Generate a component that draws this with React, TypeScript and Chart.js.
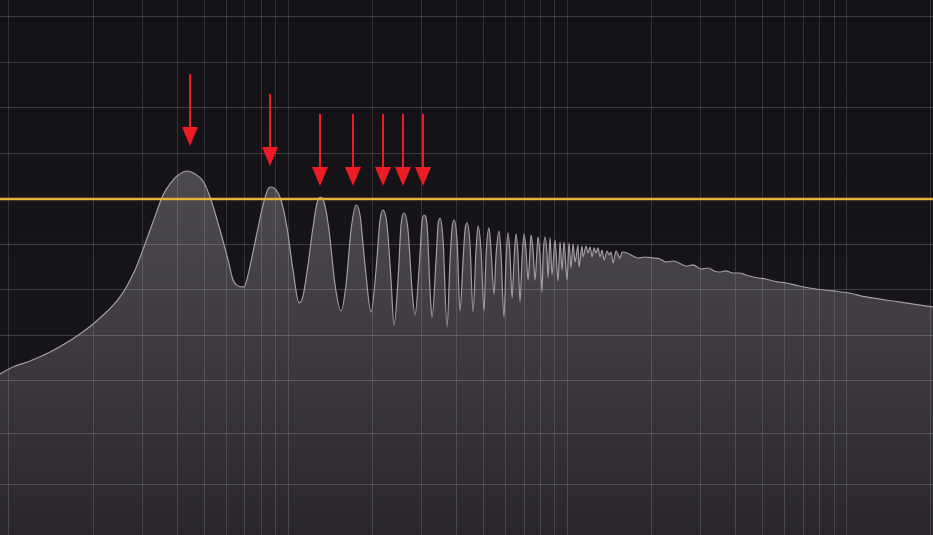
import React, { useEffect, useRef } from "react";
import { Chart, registerables } from "chart.js";

Chart.register(...registerables);

// Frequency response (Hz) and level (dB)
const freqHz = [
  9.29, 10.34, 11.9, 14.03, 17.53, 21.19, 24.99, 28.28, 29.96, 32.8,
  35.62, 37.73, 39.97, 43.41, 46.37, 49.53, 52.47, 56.98, 60.87, 63.43,
  66.1, 69.45, 71.78, 74.8, 77.95, 81.23, 84.65, 86.77, 90.42, 94.22,
  99.0, 104.0, 109.3, 112.96, 117.7, 121.7, 126.8, 129.95, 134.3, 139.96,
  147.1, 154.5, 161.0, 167.8, 174.85, 180.7, 188.3, 197.9, 206.2, 213.1,
  218.4, 225.8, 233.3, 239.2, 247.2, 253.4, 259.7, 268.4, 277.5, 284.4,
  293.9, 301.3, 306.3, 314.0, 321.8, 327.2, 338.2, 343.8, 349.5, 358.3,
  370.3, 379.6, 385.9, 392.3, 402.1, 412.1, 422.5, 429.5, 436.6, 447.6,
  458.8, 470.2, 478.1, 490.0, 502.3, 510.7, 523.4, 532.1, 545.5, 554.5,
  568.4, 577.9, 592.4, 602.2, 612.2, 622.4, 632.7, 643.3, 654.0, 664.8,
  675.9, 687.1, 698.6, 710.1, 721.9, 734.0, 740.1, 752.3, 764.8, 777.5,
  784.0, 797.1, 810.3, 817.0, 830.6, 844.4, 851.4, 865.5, 879.9, 901.9,
  924.6, 939.9, 955.5, 971.4, 995.8, 1012, 1029, 1046, 1064, 1090,
  1099, 1127, 1136, 1165, 1184, 1204, 1224, 1244, 1265, 1286,
  1307, 1329, 1351, 1385, 1408, 1431, 1455, 1491, 1541, 1567,
  1633, 1716, 1788, 1894, 2023, 2144, 2252, 2386, 2507, 2656,
  2814, 3006, 3184, 3346, 3486, 3693, 3913, 4112, 4356, 4615,
  4849, 5137, 5442, 5718, 6058, 6744, 7758, 8924, 10183, 11714,
  15376, 20340,
];

const levelDb = [
  -23.08, -22.15, -21.36, -20.18, -18.07, -15.69, -12.92, -9.36, -6.99, -3.03,
  0.53, 1.98, 3.03, 3.69, 3.3, 2.37, 0.26, -4.09, -8.04, -10.68,
  -11.47, -11.6, -10.02, -6.99, -3.82, -0.79, 1.32, 1.58, 1.19, -0.13,
  -3.82, -9.36, -13.71, -12.79, -8.7, -4.62, -0.53, 0.26, -0.4, -4.09,
  -11.34, -14.77, -11.34, -4.09, -0.79, -2.11, -8.7, -14.9, -9.36, -2.77,
  -1.45, -3.43, -10.68, -16.62, -10.68, -3.43, -1.85, -4.09, -12.0, -15.3,
  -9.36, -3.03, -2.11, -3.43, -12.0, -15.56, -8.04, -3.43, -2.51, -5.41,
  -16.88, -8.04, -3.82, -2.77, -5.41, -14.77, -8.04, -4.09, -3.16, -6.07,
  -14.9, -6.73, -3.56, -6.73, -14.77, -7.38, -3.82, -6.73, -12.53, -7.38,
  -4.22, -7.38, -15.56, -8.04, -4.48, -7.38, -13.06, -8.04, -4.62, -7.38,
  -13.58, -7.78, -4.62, -6.73, -10.68, -6.73, -4.75, -6.73, -10.68, -6.73,
  -5.01, -7.38, -12.26, -7.78, -5.01, -7.38, -10.42, -5.14, -10.02, -5.41,
  -10.81, -5.67, -9.36, -5.67, -10.68, -5.8, -9.1, -5.93, -8.31, -6.07,
  -8.97, -6.2, -7.65, -6.2, -7.12, -6.33, -7.65, -6.46, -7.12, -6.46,
  -7.65, -6.73, -8.04, -6.86, -7.38, -6.99, -8.44, -6.86, -7.78, -6.99,
  -7.12, -7.52, -7.78, -7.65, -7.78, -7.91, -8.31, -8.18, -8.44, -8.84,
  -8.7, -9.23, -9.1, -9.49, -9.63, -9.49, -9.76, -9.76, -10.02, -10.29,
  -10.42, -10.55, -10.81, -10.95, -11.08, -11.47, -11.87, -12.13, -12.4, -12.92,
  -13.58, -14.24,
];

const refLevelDb = 0;
const xMinHz = 9.29;
const xMaxHz = 20340;
const yMinDb = -44.31;
const yMaxDb = 26.24;

const xGridHz = [
  10, 20, 30, 40, 50, 60, 70, 80, 90,
  100, 200, 300, 400, 500, 600, 700, 800, 900,
  1000, 2000, 3000, 4000, 5000, 6000, 7000, 8000, 9000,
  10000, 20000,
];
const yGridDb = [24, 18, 12, 6, 0, -6, -12, -18, -24, -30.9, -37.7];

const arrowHz = [44.5, 86, 130, 170.6, 218.4, 257.6, 303.8];
const arrowTopDb = [16.48, 13.85, 11.21, 11.21, 11.21, 11.21, 11.21];
const arrowTipDb = [6.99, 4.35, 1.71, 1.71, 1.71, 1.71, 1.71];

const bgPlugin = {
  id: "bg",
  beforeDraw(chart: any) {
    const { ctx, width, height } = chart;
    ctx.save();
    const g = ctx.createLinearGradient(0, 0, 0, height);
    g.addColorStop(0, "#141117");
    g.addColorStop(1, "#19161b");
    ctx.fillStyle = g;
    ctx.fillRect(0, 0, width, height);
    ctx.restore();
  },
};

const arrowPlugin = {
  id: "arrows",
  afterDatasetsDraw(chart: any) {
    const { ctx } = chart;
    const xs = chart.scales.x;
    const ys = chart.scales.y;
    ctx.save();
    ctx.fillStyle = "#ec1c24";
    ctx.strokeStyle = "#ec1c24";
    ctx.lineWidth = 2;
    const headLen = 19;
    const headHalf = 8;
    arrowHz.forEach((f, i) => {
      const px = Math.round(xs.getPixelForValue(f));
      const top = ys.getPixelForValue(arrowTopDb[i]);
      const tip = ys.getPixelForValue(arrowTipDb[i]);
      ctx.beginPath();
      ctx.moveTo(px, top);
      ctx.lineTo(px, tip - headLen + 1);
      ctx.stroke();
      ctx.beginPath();
      ctx.moveTo(px - headHalf, tip - headLen);
      ctx.lineTo(px + headHalf, tip - headLen);
      ctx.lineTo(px, tip);
      ctx.closePath();
      ctx.fill();
    });
    ctx.restore();
  },
};

export default function App() {
  const canvasRef = useRef<HTMLCanvasElement | null>(null);

  useEffect(() => {
    document.body.style.margin = "0";
    const canvas = canvasRef.current;
    if (!canvas) return;

    const spectrum = freqHz.map((f, i) => ({ x: f, y: levelDb[i] }));
    const refLine = [
      { x: xMinHz, y: refLevelDb },
      { x: xMaxHz, y: refLevelDb },
    ];

    const chart = new Chart(canvas, {
      type: "line",
      data: {
        datasets: [
          {
            data: refLine,
            borderColor: "#e9b23e",
            borderWidth: 2.5,
            pointRadius: 0,
            fill: false,
          },
          {
            data: spectrum,
            borderColor: "#a29ea4",
            borderWidth: 1.2,
            pointRadius: 0,
            cubicInterpolationMode: "monotone",
            fill: "start",
            backgroundColor: (context: any) => {
              const { chart: c } = context;
              const area = c.chartArea;
              if (!area) return "rgba(235,230,240,0.2)";
              const g = c.ctx.createLinearGradient(0, area.top, 0, area.bottom);
              g.addColorStop(0, "rgba(235,230,240,0.30)");
              g.addColorStop(0.45, "rgba(235,230,240,0.23)");
              g.addColorStop(1, "rgba(235,230,240,0.08)");
              return g;
            },
          },
        ],
      },
      options: {
        responsive: false,
        animation: false,
        layout: { padding: 0 },
        plugins: {
          legend: { display: false },
          tooltip: { enabled: false },
        },
        scales: {
          x: {
            type: "logarithmic",
            min: xMinHz,
            max: xMaxHz,
            afterBuildTicks: (scale: any) => {
              scale.ticks = xGridHz.map((v) => ({ value: v }));
            },
            ticks: { display: false },
            grid: { color: "rgba(255,255,255,0.14)", drawTicks: false, lineWidth: 1 },
            border: { display: false },
          },
          y: {
            type: "linear",
            min: yMinDb,
            max: yMaxDb,
            afterBuildTicks: (scale: any) => {
              scale.ticks = yGridDb.map((v) => ({ value: v }));
            },
            ticks: { display: false },
            grid: { color: "rgba(255,255,255,0.18)", drawTicks: false, lineWidth: 1 },
            border: { display: false },
          },
        },
      },
      plugins: [bgPlugin, arrowPlugin],
    });

    return () => chart.destroy();
  }, []);

  return (
    <div style={{ width: 933, height: 535 }}>
      <canvas ref={canvasRef} width={933} height={535} style={{ display: "block" }} />
    </div>
  );
}
